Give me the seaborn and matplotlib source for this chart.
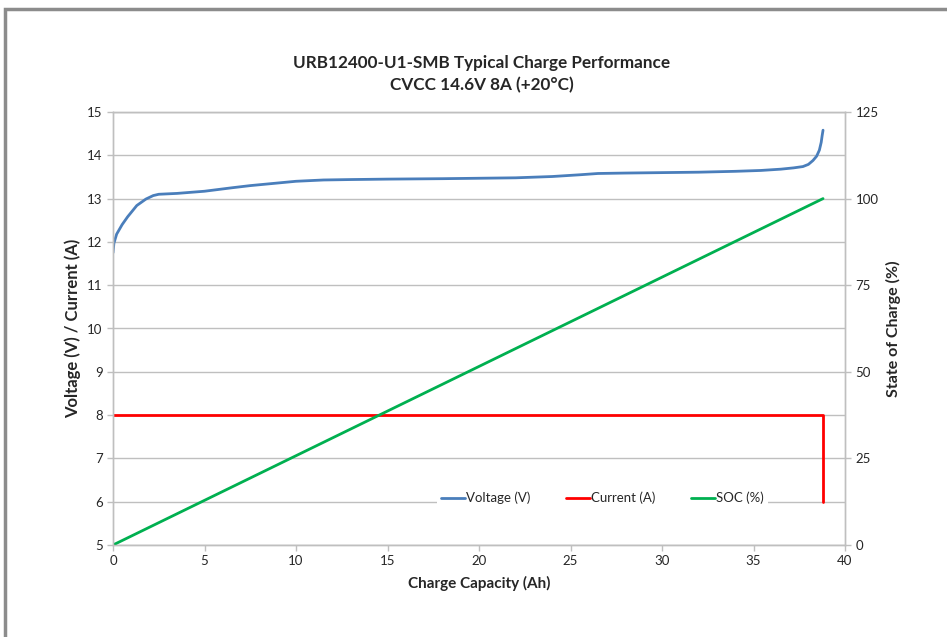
import matplotlib
matplotlib.use("Agg")
import matplotlib.pyplot as plt
from matplotlib.patches import Rectangle
import pandas as pd
import seaborn as sns

# --- data ---
volt_ah = [0.0, 0.05, 0.2, 0.5, 0.8, 1.3, 1.8, 2.2, 2.5, 3.5, 5.0, 6.5, 7.5, 9.0, 10.0,
           11.5, 13.0, 15.0, 18.0, 20.0, 22.0, 24.0, 25.5, 26.5, 28.0, 30.0, 32.0, 34.0,
           35.4, 36.5, 37.2, 37.7, 38.0, 38.25, 38.45, 38.6, 38.7, 38.75, 38.8]
volt_v = [11.75, 11.97, 12.18, 12.4, 12.58, 12.84, 12.99, 13.07, 13.1, 13.12, 13.17, 13.25,
          13.3, 13.36, 13.4, 13.43, 13.44, 13.45, 13.46, 13.47, 13.48, 13.51, 13.55, 13.58,
          13.59, 13.6, 13.61, 13.63, 13.65, 13.68, 13.71, 13.74, 13.79, 13.88, 13.98,
          14.12, 14.3, 14.45, 14.58]

curr_ah = [0.0, 38.8, 38.8]
curr_a = [8.0, 8.0, 6.0]

soc_ah = [0.0, 38.8]
soc_pct = [0.0, 100.0]

title = "URB12400-U1-SMB Typical Charge Performance\nCVCC 14.6V 8A (+20°C)"

volt_df = pd.DataFrame({"ah": volt_ah, "val": volt_v})
curr_df = pd.DataFrame({"ah": curr_ah, "val": curr_a})
soc_df = pd.DataFrame({"ah": soc_ah, "val": soc_pct})

sns.set_style("white")
plt.rcParams["font.family"] = ["Lato", "DejaVu Sans"]

fig = plt.figure(figsize=(9.47, 6.37), dpi=100)
ax = fig.add_axes([113 / 947, 1 - 545 / 637, 732 / 947, 433 / 637])
ax2 = ax.twinx()

grid_c = "#BFBFBF"
text_c = "#262626"

sns.lineplot(data=volt_df, x="ah", y="val", ax=ax, color="#4A7EBB", lw=2.0,
             sort=False, estimator=None, label="Voltage (V)", legend=False)
sns.lineplot(data=curr_df, x="ah", y="val", ax=ax, color="#FF0000", lw=2.0,
             sort=False, estimator=None, label="Current (A)", legend=False)
sns.lineplot(data=soc_df, x="ah", y="val", ax=ax2, color="#00B050", lw=2.0,
             sort=False, estimator=None, label="SOC (%)", legend=False)

ax.set_xlim(0, 40)
ax.set_ylim(5, 15)
ax2.set_ylim(0, 125)
ax.set_xticks(range(0, 41, 5))
ax.set_yticks(range(5, 16))
ax2.set_yticks(range(0, 126, 25))

ax.grid(axis="y", color=grid_c, lw=1.0)
ax.set_axisbelow(True)
for a in (ax, ax2):
    for s in a.spines.values():
        s.set_color(grid_c)
        s.set_linewidth(1.0)
    a.tick_params(colors=grid_c, labelcolor=text_c, labelsize=9.5, length=4,
                  direction="out", width=1.0)
ax.tick_params(axis="both", left=True, bottom=True)
ax2.tick_params(axis="y", right=True)

ax.set_xlabel("Charge Capacity (Ah)", fontsize=11, fontweight="bold", color=text_c, labelpad=6)
ax.set_ylabel("Voltage (V) / Current (A)", fontsize=12, fontweight="bold", color=text_c, labelpad=4)
ax2.set_ylabel("State of Charge (%)", fontsize=11.5, fontweight="bold", color=text_c, labelpad=5)

fig.text(482 / 947, 1 - 74 / 637, title, ha="center", va="center", fontsize=12.3,
         fontweight="bold", color=text_c, linespacing=1.5)

h1, l1 = ax.get_legend_handles_labels()
h2, l2 = ax2.get_legend_handles_labels()
leg = ax2.legend(h1 + h2, l1 + l2, ncol=3, loc="center", bbox_to_anchor=(0.669, 0.1085),
                 frameon=True, facecolor="white", edgecolor="none", framealpha=1,
                 fontsize=9.5, handlelength=1.8, handletextpad=0.1, columnspacing=2.7,
                 borderpad=0.3, fancybox=False)
for t in leg.get_texts():
    t.set_color(text_c)

# outer chart frame (left and top edges visible in the reference)
fig.add_artist(Rectangle((5 / 947, -0.1), 1.1, 0.1 + (1 - 9 / 637), transform=fig.transFigure,
                         fill=False, edgecolor="#8C8C8C", lw=2.5))

fig.savefig("out.png", dpi=100)
